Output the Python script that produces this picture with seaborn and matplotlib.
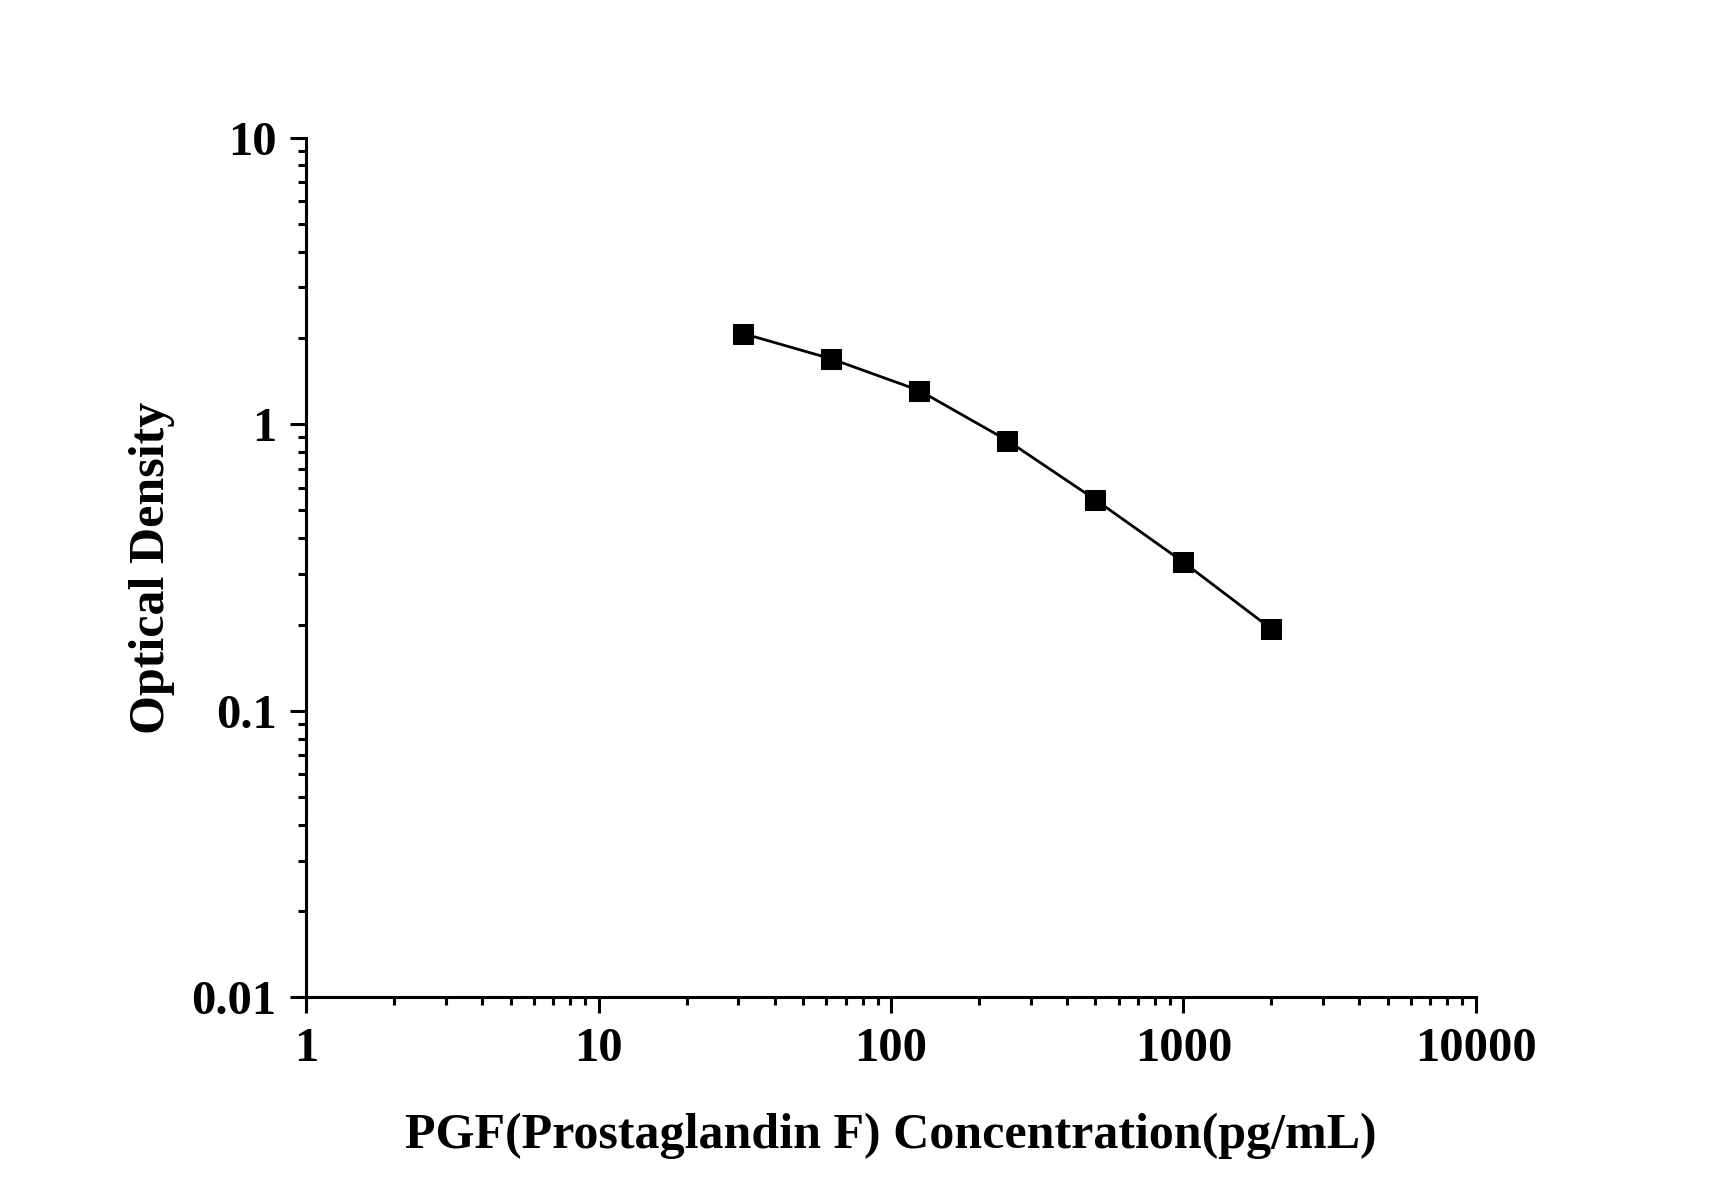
import matplotlib
matplotlib.use('Agg')
import matplotlib.pyplot as plt
import matplotlib.ticker as mticker
import seaborn as sns
import pandas as pd

# standard curve values
concentration = [31.25, 62.5, 125, 250, 500, 1000, 2000]
optical_density = [2.07, 1.69, 1.31, 0.877, 0.545, 0.330, 0.193]

x_ticks = [1, 10, 100, 1000, 10000]
x_tick_labels = ['1', '10', '100', '1000', '10000']
y_ticks = [0.01, 0.1, 1, 10]
y_tick_labels = ['0.01', '0.1', '1', '10']

df = pd.DataFrame({'conc': concentration, 'od': optical_density})

sns.set_style('ticks')
plt.rcParams['font.family'] = ['Liberation Serif', 'DejaVu Serif']
plt.rcParams['font.weight'] = 'bold'
plt.rcParams['text.color'] = 'black'
plt.rcParams['axes.labelcolor'] = 'black'

fig = plt.figure(figsize=(17.12, 11.96), dpi=100)
ax = fig.add_axes([0.179, 0.166, 0.683, 0.719])

sns.lineplot(data=df, x='conc', y='od', ax=ax, color='black', linewidth=2.0,
             marker='s', markersize=14, markeredgecolor='black', markerfacecolor='black')

ax.set_xscale('log')
ax.set_yscale('log')
ax.set_xlim(1, 10000)
ax.set_ylim(0.01, 10)
ax.set_xticks(x_ticks)
ax.set_xticklabels(x_tick_labels)
ax.set_yticks(y_ticks)
ax.set_yticklabels(y_tick_labels)
ax.xaxis.set_minor_locator(mticker.LogLocator(base=10, subs=range(2, 10), numticks=20))
ax.yaxis.set_minor_locator(mticker.LogLocator(base=10, subs=range(2, 10), numticks=20))
ax.xaxis.set_minor_formatter(mticker.NullFormatter())
ax.yaxis.set_minor_formatter(mticker.NullFormatter())

for side in ['top', 'right']:
    ax.spines[side].set_visible(False)
for side in ['left', 'bottom']:
    ax.spines[side].set_linewidth(2.2)
    ax.spines[side].set_color('black')

ax.tick_params(which='major', direction='out', length=11.5, width=2.2, colors='black',
               labelsize=35, pad=10)
ax.tick_params(which='minor', direction='out', length=6, width=2.2, colors='black')
for lab in ax.get_xticklabels() + ax.get_yticklabels():
    lab.set_fontweight('bold')

ax.set_xlabel('PGF(Prostaglandin F) Concentration(pg/mL)', fontsize=36, fontweight='bold',
              labelpad=30, color='black')
ax.set_ylabel('Optical Density', fontsize=36, fontweight='bold', labelpad=12, color='black')

fig.savefig('out.png', dpi=100, facecolor='white')
